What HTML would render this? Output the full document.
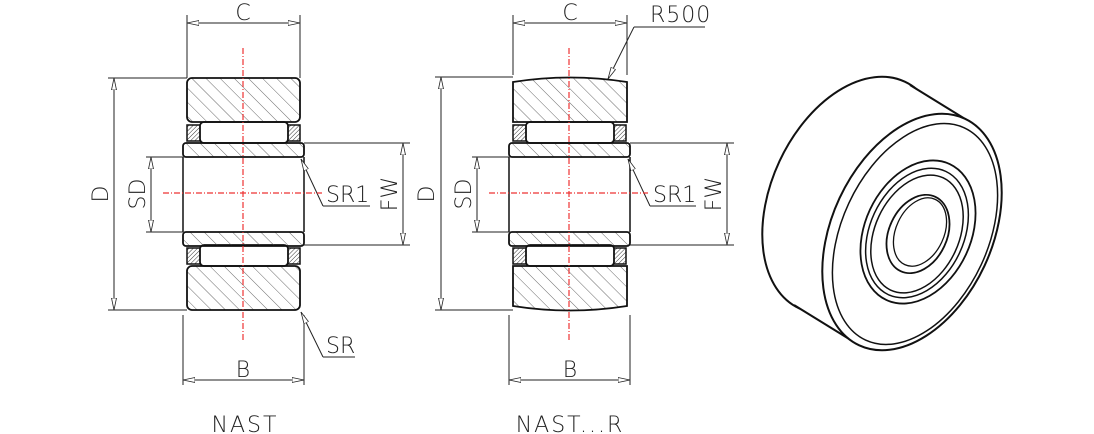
<!DOCTYPE html>
<html><head><style>
html,body{margin:0;padding:0;background:#fff;}
svg{display:block}
text{font-family:"DejaVu Sans","Liberation Sans",sans-serif;font-weight:200;fill:#222}
</style></head><body>
<svg width="1094" height="434" viewBox="0 0 1094 434" xmlns="http://www.w3.org/2000/svg">
<defs>
<pattern id="h" width="10" height="10" patternUnits="userSpaceOnUse" patternTransform="rotate(-45)">
<line x1="0" y1="0" x2="0" y2="10" stroke="#444" stroke-width="0.8"/>
</pattern>
<pattern id="hd" width="3" height="3" patternUnits="userSpaceOnUse" patternTransform="rotate(45)">
<line x1="0" y1="0" x2="0" y2="3" stroke="#333" stroke-width="1"/>
</pattern>
<marker id="a" viewBox="0 0 12 6" refX="12" refY="3" markerWidth="12" markerHeight="6" orient="auto-start-reverse" markerUnits="userSpaceOnUse">
<path d="M0,0.5 L12,3 L0,5.5 Z" fill="#fff" stroke="#222" stroke-width="0.8"/>
</marker>
<g id="core">
<rect x="187" y="125" width="14" height="16" fill="url(#hd)" stroke="#111" stroke-width="1.5"/>
<rect x="286" y="125" width="14" height="16" fill="url(#hd)" stroke="#111" stroke-width="1.5"/>
<rect x="200" y="122" width="88" height="21" rx="4" fill="#fff" stroke="#111" stroke-width="1.8"/>
<rect x="187" y="248" width="14" height="16" fill="url(#hd)" stroke="#111" stroke-width="1.5"/>
<rect x="286" y="248" width="14" height="16" fill="url(#hd)" stroke="#111" stroke-width="1.5"/>
<rect x="200" y="245" width="88" height="21" rx="4" fill="#fff" stroke="#111" stroke-width="1.8"/>
<rect x="183" y="143" width="121" height="14" rx="3" fill="url(#h)" stroke="#111" stroke-width="1.8"/>
<rect x="183" y="232" width="121" height="14" rx="3" fill="url(#h)" stroke="#111" stroke-width="1.8"/>
<line x1="183" y1="157" x2="183" y2="232" stroke="#111" stroke-width="1.5"/>
<line x1="304" y1="157" x2="304" y2="232" stroke="#111" stroke-width="1.5"/>
</g>
</defs>

<!-- LEFT -->
<use href="#core"/>
<rect x="187" y="78" width="113" height="44" rx="5" fill="url(#h)" stroke="#111" stroke-width="1.8"/>
<rect x="187" y="266" width="113" height="44" rx="5" fill="url(#h)" stroke="#111" stroke-width="1.8"/>
<g stroke="#222" stroke-width="1" fill="none">
<line x1="187" y1="15" x2="187" y2="78"/><line x1="300" y1="15" x2="300" y2="78"/>
<line x1="187" y1="23" x2="300" y2="23" marker-start="url(#a)" marker-end="url(#a)"/>
<line x1="108" y1="78" x2="187" y2="78"/><line x1="108" y1="310" x2="187" y2="310"/>
<line x1="114" y1="78" x2="114" y2="310" marker-start="url(#a)" marker-end="url(#a)"/>
<line x1="146" y1="157" x2="183" y2="157"/><line x1="146" y1="232" x2="183" y2="232"/>
<line x1="151" y1="157" x2="151" y2="232" marker-start="url(#a)" marker-end="url(#a)"/>
<line x1="304" y1="143" x2="410" y2="143"/><line x1="304" y1="245" x2="410" y2="245"/>
<line x1="403" y1="143" x2="403" y2="245" marker-start="url(#a)" marker-end="url(#a)"/>
<line x1="183" y1="315" x2="183" y2="385"/><line x1="304" y1="315" x2="304" y2="385"/>
<line x1="183" y1="380" x2="304" y2="380" marker-start="url(#a)" marker-end="url(#a)"/>
<polyline points="323,206 370,206"/><line x1="323" y1="206" x2="301" y2="159" marker-end="url(#a)"/>
<polyline points="323,357 355,357"/><line x1="323" y1="357" x2="301" y2="312" marker-end="url(#a)"/>
</g>
<g stroke="#e33" stroke-width="1.2" stroke-dasharray="6,2,1,2" fill="none">
<line x1="243" y1="48" x2="243" y2="340"/><line x1="163" y1="193" x2="322" y2="193"/>
</g>
<text x="243" y="20" font-size="22" text-anchor="middle">C</text>
<text x="243" y="377" font-size="22" text-anchor="middle">B</text>
<text font-size="22" text-anchor="middle" transform="translate(108,194) rotate(-90)">D</text>
<text font-size="22" text-anchor="middle" transform="translate(145,194) rotate(-90)">SD</text>
<text font-size="22" text-anchor="middle" transform="translate(397,194) rotate(-90)">FW</text>
<text x="326" y="202" font-size="22">SR1</text>
<text x="326" y="353" font-size="22">SR</text>
<text x="245" y="432" font-size="22" text-anchor="middle" letter-spacing="2">NAST</text>

<!-- RIGHT -->
<g transform="translate(326,0)"><use href="#core"/></g>
<path d="M513,82 Q570,73 627,82 L627,122 L513,122 Z" fill="url(#h)" stroke="#111" stroke-width="1.8"/>
<path d="M513,266 L627,266 L627,306 Q570,315 513,306 Z" fill="url(#h)" stroke="#111" stroke-width="1.8"/>
<g stroke="#222" stroke-width="1" fill="none">
<line x1="513" y1="15" x2="513" y2="75"/><line x1="627" y1="15" x2="627" y2="75"/>
<line x1="513" y1="23" x2="627" y2="23" marker-start="url(#a)" marker-end="url(#a)"/>
<polyline points="705,27 634,27"/><line x1="634" y1="27" x2="608" y2="79" marker-end="url(#a)"/>
<line x1="435" y1="77" x2="513" y2="77"/><line x1="435" y1="310" x2="513" y2="310"/>
<line x1="441" y1="77" x2="441" y2="310" marker-start="url(#a)" marker-end="url(#a)"/>
<line x1="472" y1="157" x2="509" y2="157"/><line x1="472" y1="232" x2="509" y2="232"/>
<line x1="477" y1="157" x2="477" y2="232" marker-start="url(#a)" marker-end="url(#a)"/>
<line x1="630" y1="143" x2="734" y2="143"/><line x1="630" y1="245" x2="734" y2="245"/>
<line x1="727" y1="143" x2="727" y2="245" marker-start="url(#a)" marker-end="url(#a)"/>
<line x1="509" y1="315" x2="509" y2="385"/><line x1="630" y1="315" x2="630" y2="385"/>
<line x1="509" y1="380" x2="630" y2="380" marker-start="url(#a)" marker-end="url(#a)"/>
<polyline points="650,206 696,206"/><line x1="650" y1="206" x2="628" y2="159" marker-end="url(#a)"/>
</g>
<g stroke="#e33" stroke-width="1.2" stroke-dasharray="6,2,1,2" fill="none">
<line x1="569" y1="48" x2="569" y2="340"/><line x1="489" y1="193" x2="648" y2="193"/>
</g>
<text x="570" y="20" font-size="22" text-anchor="middle">C</text>
<text x="570" y="377" font-size="22" text-anchor="middle">B</text>
<text x="650" y="22" font-size="22" letter-spacing="1">R500</text>
<text font-size="22" text-anchor="middle" transform="translate(434,194) rotate(-90)">D</text>
<text font-size="22" text-anchor="middle" transform="translate(471,194) rotate(-90)">SD</text>
<text font-size="22" text-anchor="middle" transform="translate(721,194) rotate(-90)">FW</text>
<text x="653" y="202" font-size="22">SR1</text>
<text x="570" y="432" font-size="22" text-anchor="middle" letter-spacing="2">NAST...R</text>

<!-- 3D -->
<g stroke="#111" stroke-width="2" fill="#fff">
<ellipse cx="852" cy="195" rx="80" ry="125" transform="rotate(25 852 195)"/>
<polygon points="794,305 910,85 970,122 854,342" stroke="none"/>
<line x1="910" y1="85" x2="970" y2="122"/>
<line x1="794" y1="305" x2="854" y2="342"/>
<ellipse cx="912" cy="232" rx="80" ry="125" transform="rotate(25 912 232)"/>
<ellipse cx="915" cy="234" rx="73" ry="117" transform="rotate(25 915 234)" stroke-width="1.5"/>
<ellipse cx="918" cy="232" rx="53" ry="75" transform="rotate(25 918 232)" stroke-width="1.8"/>
<ellipse cx="917" cy="233" rx="47" ry="68" transform="rotate(25 917 233)" stroke-width="1.5"/>
<ellipse cx="917" cy="234" rx="42" ry="62" transform="rotate(25 917 234)" stroke-width="1.5"/>
<ellipse cx="918" cy="234" rx="29" ry="41" transform="rotate(25 918 234)" stroke-width="1.8"/>
<ellipse cx="920" cy="232" rx="24" ry="36" transform="rotate(25 920 232)" stroke-width="1.3"/>
</g>
</svg>
</body></html>
